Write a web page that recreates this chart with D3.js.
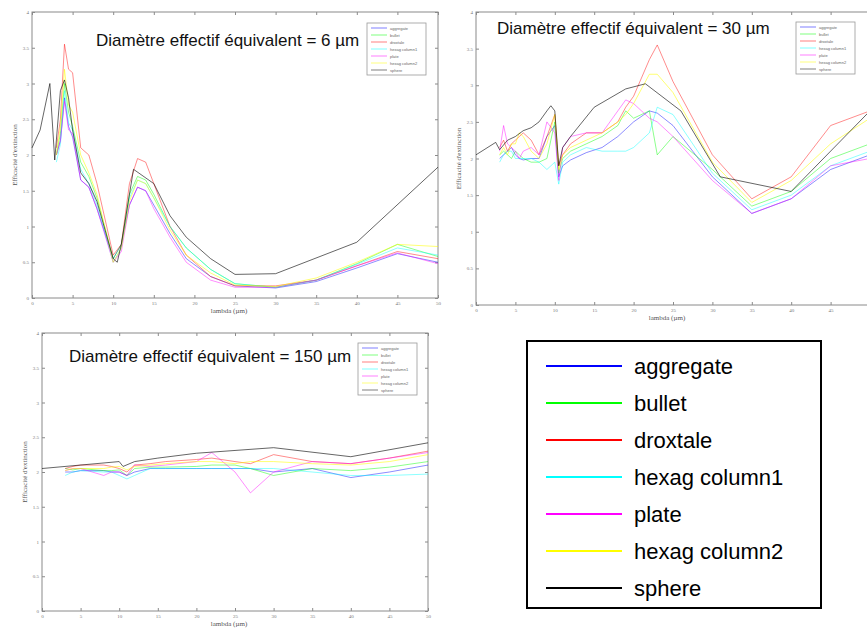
<!DOCTYPE html>
<html>
<head>
<meta charset="utf-8">
<script src="https://cdn.jsdelivr.net/npm/d3@7"></script>
<style>
  body { margin: 0; background: #fff; }
  svg { display: block; }
</style>
</head>
<body>
<svg id="chart" width="867" height="629"></svg>
<script>
// Series names and colours (MATLAB defaults used in the figure)
const seriesNames = ["aggregate", "bullet", "droxtale", "hexag column1", "plate", "hexag column2", "sphere"];
const seriesColors = ["#0000ff", "#00ff00", "#ff0000", "#00ffff", "#ff00ff", "#ffff00", "#000000"];

const xTicks = [0, 5, 10, 15, 20, 25, 30, 35, 40, 45, 50];
const yTicks = [0, 0.5, 1, 1.5, 2, 2.5, 3, 3.5, 4];

// Diameter 6 um
const lambda6 = [3, 3.5, 4, 4.5, 5, 6, 7, 8, 10, 11, 12, 13, 14, 15, 17, 19, 22, 25, 30, 35, 40, 45, 50];
const aggregate6 = [2.0, 2.2, 2.8, 2.4, 2.25, 1.65, 1.55, 1.25, 0.55, 0.75, 1.3, 1.55, 1.5, 1.3, 0.9, 0.55, 0.3, 0.17, 0.14, 0.23, 0.42, 0.62, 0.5];
const bullet6 = [2.0, 2.3, 3.0, 2.6, 2.4, 1.9, 1.7, 1.4, 0.55, 0.75, 1.45, 1.7, 1.65, 1.45, 1.0, 0.7, 0.4, 0.2, 0.15, 0.25, 0.48, 0.75, 0.58];
const droxtale6 = [2.1, 2.5, 3.55, 3.2, 3.15, 2.1, 2.0, 1.6, 0.6, 0.75, 1.6, 1.95, 1.9, 1.6, 1.0, 0.6, 0.3, 0.17, 0.17, 0.25, 0.45, 0.65, 0.55];
const column1_6 = [1.9, 2.15, 2.9, 2.45, 2.35, 1.8, 1.6, 1.3, 0.5, 0.7, 1.4, 1.65, 1.6, 1.4, 1.0, 0.7, 0.4, 0.2, 0.15, 0.25, 0.47, 0.7, 0.6];
const plate6 = [2.0, 2.2, 2.75, 2.35, 2.3, 1.65, 1.55, 1.25, 0.5, 0.65, 1.3, 1.55, 1.5, 1.25, 0.85, 0.5, 0.25, 0.15, 0.15, 0.25, 0.45, 0.63, 0.48];
const column2_6 = [2.0, 2.4, 3.2, 2.7, 2.6, 2.0, 1.75, 1.45, 0.5, 0.7, 1.35, 1.65, 1.6, 1.4, 0.95, 0.6, 0.35, 0.18, 0.16, 0.28, 0.5, 0.75, 0.72];
const lambdaSphere6 = [0, 1, 2.2, 2.8, 3.5, 4, 4.5, 5, 6, 7, 8, 10, 10.5, 11, 12.5, 15, 17, 19, 22, 25, 30, 40, 50];
const sphere6 = [2.1, 2.35, 3.0, 1.93, 2.9, 3.05, 2.8, 2.35, 1.75, 1.6, 1.35, 0.55, 0.5, 0.75, 1.8, 1.6, 1.15, 0.85, 0.55, 0.33, 0.34, 0.78, 1.83];

// Diameter 30 um
const lambda30 = [3, 3.5, 4, 4.5, 5, 5.5, 6, 7, 8, 9, 10, 10.5, 11, 12, 14, 16, 18, 19, 20, 22, 23, 25, 30, 35, 40, 45, 50];
const aggregate30 = [2.0, 2.05, 2.1, 2.15, 2.05, 2.0, 1.98, 2.0, 2.0, 2.3, 2.45, 1.75, 1.9, 1.98, 2.08, 2.15, 2.3, 2.4, 2.5, 2.65, 2.62, 2.45, 1.75, 1.25, 1.45, 1.85, 2.05];
const bullet30 = [2.05, 2.1, 2.05, 2.0, 2.1, 2.05, 2.0, 1.95, 1.95, 2.0, 2.5, 1.8, 2.0, 2.1, 2.2, 2.3, 2.45, 2.65, 2.55, 2.65, 2.05, 2.3, 1.85, 1.35, 1.55, 2.0, 2.2];
const droxtale30 = [2.15, 2.25, 2.1, 2.2, 2.25, 2.3, 2.35, 2.25, 2.05, 2.3, 2.6, 1.9, 2.05, 2.2, 2.35, 2.35, 2.5, 2.7, 2.85, 3.35, 3.55, 3.05, 2.05, 1.45, 1.75, 2.45, 2.65];
const column1_30 = [1.95, 2.05, 2.1, 2.1, 2.0, 2.0, 2.0, 2.0, 1.95, 1.85, 1.95, 1.65, 1.95, 2.05, 2.15, 2.1, 2.1, 2.1, 2.15, 2.35, 2.7, 2.6, 1.8, 1.3, 1.5, 1.9, 2.1];
const plate30 = [2.1, 2.45, 2.2, 2.15, 2.1, 2.0, 2.1, 2.15, 2.05, 2.5, 2.35, 1.7, 2.15, 2.3, 2.35, 2.35, 2.65, 2.8, 2.75, 2.55, 2.5, 2.3, 1.7, 1.25, 1.45, 1.9, 2.0];
const column2_30 = [2.05, 2.15, 2.05, 2.2, 2.2, 2.35, 2.3, 2.1, 2.0, 2.2, 2.6, 1.85, 2.05, 2.15, 2.25, 2.35, 2.5, 2.6, 2.75, 3.15, 3.15, 2.9, 1.95, 1.4, 1.7, 2.2, 2.55];
const lambdaSphere30 = [0, 2.5, 3, 4, 5, 6, 7, 8, 9, 9.5, 10, 10.5, 11, 12, 15, 19, 21.5, 26, 31, 40, 50];
const sphere30 = [2.05, 2.22, 2.12, 2.25, 2.3, 2.38, 2.42, 2.5, 2.65, 2.72, 2.65, 1.9, 2.15, 2.3, 2.7, 2.95, 3.02, 2.65, 1.75, 1.55, 2.65];

// Diameter 150 um
const lambda150 = [3, 4, 5, 8, 9, 10, 11, 12, 14, 16, 20, 22, 25, 27, 30, 35, 40, 45, 50];
const aggregate150 = [2.0, 2.0, 2.02, 2.02, 2.0, 2.0, 1.95, 2.0, 2.05, 2.05, 2.05, 2.05, 2.05, 2.05, 2.0, 2.05, 1.92, 2.0, 2.1];
const bullet150 = [2.05, 2.03, 2.05, 2.02, 2.02, 2.03, 1.95, 2.05, 2.07, 2.07, 2.08, 2.1, 2.1, 2.05, 1.95, 2.05, 2.02, 2.07, 2.15];
const droxtale150 = [2.05, 2.08, 2.1, 2.1, 2.08, 2.05, 2.0, 2.1, 2.12, 2.15, 2.18, 2.2, 2.15, 2.12, 2.25, 2.15, 2.12, 2.2, 2.3];
const column1_150 = [1.95, 2.0, 2.02, 2.0, 2.0, 1.95, 1.9, 1.95, 2.05, 2.05, 2.05, 2.05, 2.05, 2.05, 2.05, 2.0, 1.95, 1.95, 1.97];
const plate150 = [2.02, 2.05, 2.05, 1.95, 2.0, 2.0, 1.95, 2.1, 2.08, 2.1, 2.15, 2.28, 2.0, 1.7, 2.0, 2.15, 2.12, 2.2, 2.28];
const column2_150 = [2.02, 2.05, 2.05, 2.05, 2.07, 2.08, 2.03, 2.08, 2.1, 2.12, 2.15, 2.15, 2.12, 2.15, 2.15, 2.12, 2.1, 2.15, 2.25];
const lambdaSphere150 = [0, 10, 10.5, 12, 15, 20, 30, 40, 50];
const sphere150 = [2.05, 2.15, 2.08, 2.15, 2.2, 2.27, 2.35, 2.22, 2.42];

// Panel layout (pixel boxes of each MATLAB axes)
const panels = [
  { title: "Diamètre effectif équivalent = 6 µm", left: 32, top: 12, right: 438, bottom: 298,
    titleX: 96, titleY: 46, legX: 367, legY: 23,
    crystalX: lambda6, crystal: [aggregate6, bullet6, droxtale6, column1_6, plate6, column2_6],
    sphereX: lambdaSphere6, sphere: sphere6 },
  { title: "Diamètre effectif équivalent = 30 µm", left: 476, top: 12, right: 870, bottom: 305,
    titleX: 497, titleY: 34, legX: 796, legY: 22,
    crystalX: lambda30, crystal: [aggregate30, bullet30, droxtale30, column1_30, plate30, column2_30],
    sphereX: lambdaSphere30, sphere: sphere30 },
  { title: "Diamètre effectif équivalent = 150 µm", left: 42, top: 333, right: 428, bottom: 611,
    titleX: 69, titleY: 362, legX: 358, legY: 343,
    crystalX: lambda150, crystal: [aggregate150, bullet150, droxtale150, column1_150, plate150, column2_150],
    sphereX: lambdaSphere150, sphere: sphere150 }
];

const svg = d3.select("#chart");
const axisGray = "#8a8a8a";

panels.forEach(p => {
  const x = d3.scaleLinear().domain([0, 50]).range([p.left, p.right]);
  const y = d3.scaleLinear().domain([0, 4]).range([p.bottom, p.top]);
  const g = svg.append("g");

  // Axes box with inward MATLAB-style ticks
  g.append("rect")
    .attr("x", p.left).attr("y", p.top)
    .attr("width", p.right - p.left).attr("height", p.bottom - p.top)
    .attr("fill", "none").attr("stroke", axisGray).attr("stroke-width", 1);

  // labels falling past the window edge are left out (the reference crops them)
  const fmtX = d => x(d) > 860 ? "" : String(d);
  g.append("g").attr("transform", `translate(0,${p.bottom})`)
    .call(d3.axisBottom(x).tickValues(xTicks).tickSize(-3).tickPadding(3).tickFormat(fmtX))
    .call(a => a.select(".domain").remove());
  g.append("g").attr("transform", `translate(0,${p.top})`)
    .call(d3.axisTop(x).tickValues(xTicks).tickSize(-3).tickFormat(""))
    .call(a => a.select(".domain").remove());
  g.append("g").attr("transform", `translate(${p.left},0)`)
    .call(d3.axisLeft(y).tickValues(yTicks).tickSize(-3).tickPadding(3).tickFormat(d => String(d)))
    .call(a => a.select(".domain").remove());
  g.append("g").attr("transform", `translate(${p.right},0)`)
    .call(d3.axisRight(y).tickValues(yTicks).tickSize(-3).tickFormat(""))
    .call(a => a.select(".domain").remove());

  g.selectAll(".tick line").attr("stroke", axisGray);
  g.selectAll(".tick text")
    .attr("fill", "#777")
    .style("font-family", "'Liberation Serif', serif")
    .style("font-size", "5px");

  // Axis labels
  g.append("text")
    .attr("x", (p.left + p.right) / 2 - 6).attr("y", p.bottom + 15)
    .attr("text-anchor", "middle")
    .style("font-family", "'Liberation Serif', serif").style("font-size", "7px")
    .attr("fill", "#555")
    .text("lambda (µm)");
  g.append("text")
    .attr("transform", `translate(${p.left - 15},${(p.top + p.bottom) / 2}) rotate(-90)`)
    .attr("text-anchor", "middle")
    .style("font-family", "'Liberation Serif', serif").style("font-size", "7px")
    .attr("fill", "#555")
    .text("Efficacité d'extinction");

  // Curves
  const line = d3.line().x(d => x(d[0])).y(d => y(d[1]));
  p.crystal.forEach((vals, i) => {
    g.append("path")
      .datum(vals.map((v, j) => [p.crystalX[j], v]))
      .attr("d", line)
      .attr("fill", "none")
      .attr("stroke", seriesColors[i])
      .attr("stroke-opacity", i === 5 ? 0.55 : 0.45)
      .attr("stroke-width", 1);
  });
  g.append("path")
    .datum(p.sphere.map((v, j) => [p.sphereX[j], v]))
    .attr("d", line)
    .attr("fill", "none")
    .attr("stroke", "#000")
    .attr("stroke-opacity", 0.6)
    .attr("stroke-width", 1);

  // Title
  g.append("text")
    .attr("x", p.titleX).attr("y", p.titleY)
    .style("font-family", "'Liberation Sans', Arial, sans-serif").style("font-size", "17px")
    .attr("fill", "#111")
    .text(p.title);

  // Small inner legend
  const lg = g.append("g").attr("transform", `translate(${p.legX},${p.legY})`);
  lg.append("rect").attr("width", 59).attr("height", 52)
    .attr("fill", "#fff").attr("stroke", "#999").attr("stroke-width", 0.8);
  seriesNames.forEach((name, i) => {
    const yy = 5 + i * 7;
    lg.append("line").attr("x1", 4).attr("x2", 20).attr("y1", yy).attr("y2", yy)
      .attr("stroke", seriesColors[i]).attr("stroke-opacity", 0.5).attr("stroke-width", 1);
    lg.append("text").attr("x", 23).attr("y", yy + 1.5)
      .style("font-family", "'Liberation Sans', sans-serif").style("font-size", "4px")
      .attr("fill", "#666")
      .text(name);
  });
});

// Big legend panel
const big = svg.append("g").attr("transform", "translate(527,341)");
big.append("rect").attr("width", 294).attr("height", 267)
  .attr("fill", "#fff").attr("stroke", "#000").attr("stroke-width", 2);
const legY = d3.scalePoint().domain(seriesNames).range([25, 247]);
seriesNames.forEach((name, i) => {
  big.append("line")
    .attr("x1", 19).attr("x2", 95)
    .attr("y1", legY(name)).attr("y2", legY(name))
    .attr("stroke", seriesColors[i]).attr("stroke-width", 2);
  big.append("text")
    .attr("x", 107).attr("y", legY(name) + 8)
    .style("font-family", "'Liberation Sans', Arial, sans-serif").style("font-size", "22px")
    .attr("fill", "#000")
    .text(name);
});
</script>
</body>
</html>
